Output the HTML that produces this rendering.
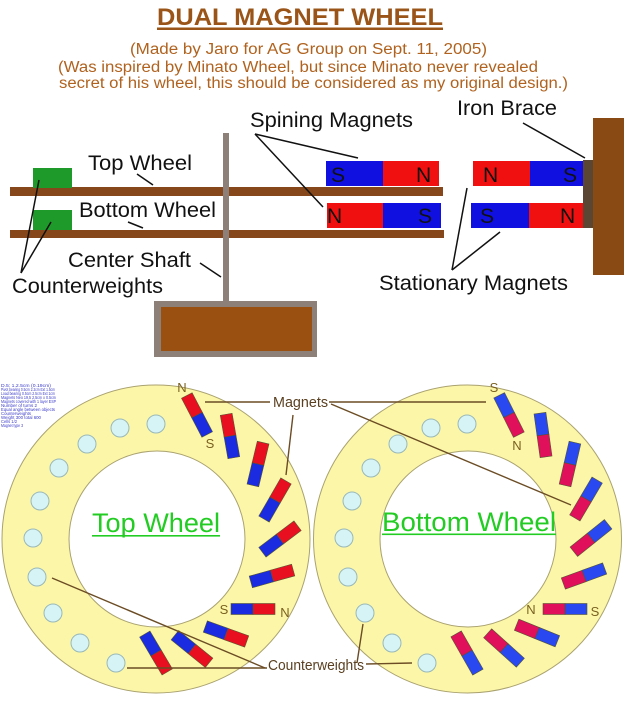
<!DOCTYPE html>
<html>
<head>
<meta charset="utf-8">
<style>
html,body{margin:0;padding:0;background:#fff;}
svg{display:block;}
text{font-family:"Liberation Sans",Arial,sans-serif;}
</style>
</head>
<body>
<svg width="624" height="701" viewBox="0 0 624 701" xmlns="http://www.w3.org/2000/svg">
<rect width="624" height="701" fill="#ffffff"/>

<!-- Header -->
<text x="157" y="25" font-size="24" font-weight="bold" fill="#9a5418" textLength="286" lengthAdjust="spacingAndGlyphs">DUAL MAGNET WHEEL</text>
<rect x="157" y="27.5" width="286" height="2.5" fill="#9a5418"/>
<text x="130" y="54" font-size="15.5" fill="#b0621e" textLength="357" lengthAdjust="spacingAndGlyphs">(Made by Jaro for AG Group on Sept. 11, 2005)</text>
<text x="58" y="72" font-size="15.5" fill="#b0621e" textLength="480" lengthAdjust="spacingAndGlyphs">(Was inspired by Minato Wheel, but since Minato never revealed</text>
<text x="59" y="88" font-size="15.5" fill="#b0621e" textLength="509" lengthAdjust="spacingAndGlyphs">secret of his wheel, this should be considered as my original design.)</text>

<!-- Top diagram -->
<!-- bars -->
<rect x="10" y="187" width="433" height="9" fill="#86471a"/>
<rect x="10" y="230" width="434" height="8" fill="#86471a"/>
<!-- counterweights -->
<rect x="33" y="168" width="39" height="20" fill="#1e9a2a"/>
<rect x="33" y="210" width="39" height="20" fill="#1e9a2a"/>
<!-- shaft -->
<rect x="223" y="133" width="6" height="170" fill="#8c8078"/>
<!-- base -->
<rect x="154" y="301" width="163" height="56" fill="#8c8078"/>
<rect x="161" y="307" width="151" height="44" fill="#9a5010"/>

<!-- spinning magnets -->
<rect x="326" y="161" width="57" height="25" fill="#1010e0"/>
<rect x="383" y="161" width="56" height="25" fill="#f01010"/>
<rect x="327" y="203" width="56" height="25" fill="#f01010"/>
<rect x="383" y="203" width="58" height="25" fill="#1010e0"/>
<!-- stationary magnets -->
<rect x="473" y="161" width="57" height="25" fill="#f01010"/>
<rect x="530" y="161" width="53" height="25" fill="#1010e0"/>
<rect x="471" y="203" width="58" height="25" fill="#1010e0"/>
<rect x="529" y="203" width="54" height="25" fill="#f01010"/>
<!-- iron brace + post -->
<rect x="583" y="160" width="10" height="68" fill="#5a4632"/>
<rect x="593" y="118" width="31" height="157" fill="#8a4a14"/>

<g font-size="21" fill="#111">
<text x="331" y="182">S</text>
<text x="416" y="182">N</text>
<text x="327" y="223">N</text>
<text x="418" y="223">S</text>
<text x="483" y="182">N</text>
<text x="563" y="182">S</text>
<text x="480" y="223">S</text>
<text x="560" y="223">N</text>
</g>

<g font-size="21" fill="#111">
<text x="250" y="127" textLength="163" lengthAdjust="spacingAndGlyphs">Spining Magnets</text>
<text x="457" y="115" textLength="100" lengthAdjust="spacingAndGlyphs">Iron Brace</text>
<text x="379" y="290" textLength="189" lengthAdjust="spacingAndGlyphs">Stationary Magnets</text>
<text x="88" y="170" textLength="104" lengthAdjust="spacingAndGlyphs">Top Wheel</text>
<text x="79" y="217" textLength="137" lengthAdjust="spacingAndGlyphs">Bottom Wheel</text>
<text x="68" y="267" textLength="123" lengthAdjust="spacingAndGlyphs">Center Shaft</text>
<text x="12" y="293" textLength="151" lengthAdjust="spacingAndGlyphs">Counterweights</text>
</g>

<g stroke="#111" stroke-width="1.5" fill="none">
<line x1="137" y1="174" x2="153" y2="185"/>
<line x1="128" y1="222" x2="143" y2="228"/>
<line x1="200" y1="263" x2="221" y2="277"/>
<line x1="21" y1="273" x2="39" y2="180"/>
<line x1="21" y1="273" x2="51" y2="222"/>
<line x1="255" y1="134" x2="358" y2="158"/>
<line x1="255" y1="134" x2="323" y2="207"/>
<line x1="523" y1="123" x2="585" y2="158"/>
<line x1="452" y1="270" x2="467" y2="188"/>
<line x1="452" y1="270" x2="500" y2="232"/>
</g>

<!-- Bottom: wheels -->
<circle cx="156" cy="539" r="154" fill="#fcf7a8" stroke="#aaa270" stroke-width="1"/>
<circle cx="157" cy="539" r="88" fill="#ffffff" stroke="#aaa270" stroke-width="1"/>
<circle cx="467.5" cy="539" r="154" fill="#fcf7a8" stroke="#aaa270" stroke-width="1"/>
<circle cx="468" cy="539" r="88" fill="#ffffff" stroke="#aaa270" stroke-width="1"/>

<!-- holes -->
<g fill="#d6f3f5" stroke="#9ab8b8" stroke-width="1">
<circle cx="156" cy="424" r="9"/>
<circle cx="120" cy="428" r="9"/>
<circle cx="87" cy="444" r="9"/>
<circle cx="59" cy="468" r="9"/>
<circle cx="40" cy="501" r="9"/>
<circle cx="33" cy="538" r="9"/>
<circle cx="37" cy="577" r="9"/>
<circle cx="53" cy="613" r="9"/>
<circle cx="80" cy="643" r="9"/>
<circle cx="116" cy="663" r="9"/>

<circle cx="467" cy="424" r="9"/>
<circle cx="431" cy="428" r="9"/>
<circle cx="398" cy="444" r="9"/>
<circle cx="371" cy="468" r="9"/>
<circle cx="352" cy="501" r="9"/>
<circle cx="344" cy="538" r="9"/>
<circle cx="348" cy="577" r="9"/>
<circle cx="365" cy="613" r="9"/>
<circle cx="392" cy="643" r="9"/>
<circle cx="427" cy="663" r="9"/>
</g>

<!-- left wheel magnets: left half blue, right half red -->
<g stroke="#553" stroke-width="0.6">
<g transform="translate(197,415) rotate(-117.6)"><rect x="-22" y="-6" width="22" height="12" fill="#1a2be0"/><rect x="0" y="-6" width="22" height="12" fill="#e81020"/></g>
<g transform="translate(230,436) rotate(-100)"><rect x="-22" y="-6" width="22" height="12" fill="#1a2be0"/><rect x="0" y="-6" width="22" height="12" fill="#e81020"/></g>
<g transform="translate(258,464) rotate(-76.5)"><rect x="-22" y="-6" width="22" height="12" fill="#1a2be0"/><rect x="0" y="-6" width="22" height="12" fill="#e81020"/></g>
<g transform="translate(275,500) rotate(-60)"><rect x="-22" y="-6" width="22" height="12" fill="#1a2be0"/><rect x="0" y="-6" width="22" height="12" fill="#e81020"/></g>
<g transform="translate(280,539) rotate(-37)"><rect x="-22" y="-6" width="22" height="12" fill="#1a2be0"/><rect x="0" y="-6" width="22" height="12" fill="#e81020"/></g>
<g transform="translate(272,576) rotate(-15.6)"><rect x="-22" y="-6" width="22" height="12" fill="#1a2be0"/><rect x="0" y="-6" width="22" height="12" fill="#e81020"/></g>
<g transform="translate(253,609) rotate(0)"><rect x="-22" y="-5.5" width="22" height="11" fill="#1a2be0"/><rect x="0" y="-5.5" width="22" height="11" fill="#e81020"/></g>
<g transform="translate(226,634) rotate(19.8)"><rect x="-22" y="-6" width="22" height="12" fill="#1a2be0"/><rect x="0" y="-6" width="22" height="12" fill="#e81020"/></g>
<g transform="translate(192,649) rotate(39)"><rect x="-22" y="-6" width="22" height="12" fill="#1a2be0"/><rect x="0" y="-6" width="22" height="12" fill="#e81020"/></g>
<g transform="translate(156,653) rotate(59.4)"><rect x="-22" y="-6" width="22" height="12" fill="#1a2be0"/><rect x="0" y="-6" width="22" height="12" fill="#e81020"/></g>
</g>

<!-- right wheel magnets: left half blue, right half pink -->
<g stroke="#553" stroke-width="0.6">
<g transform="translate(509,415) rotate(63.4)"><rect x="-22" y="-6" width="22" height="12" fill="#2a48f0"/><rect x="0" y="-6" width="22" height="12" fill="#e0105a"/></g>
<g transform="translate(543,435) rotate(82)"><rect x="-22" y="-6" width="22" height="12" fill="#2a48f0"/><rect x="0" y="-6" width="22" height="12" fill="#e0105a"/></g>
<g transform="translate(570,464) rotate(103)"><rect x="-22" y="-6" width="22" height="12" fill="#2a48f0"/><rect x="0" y="-6" width="22" height="12" fill="#e0105a"/></g>
<g transform="translate(586,499) rotate(120.5)"><rect x="-22" y="-6" width="22" height="12" fill="#2a48f0"/><rect x="0" y="-6" width="22" height="12" fill="#e0105a"/></g>
<g transform="translate(591,538) rotate(141.3)"><rect x="-22" y="-6" width="22" height="12" fill="#2a48f0"/><rect x="0" y="-6" width="22" height="12" fill="#e0105a"/></g>
<g transform="translate(584,576) rotate(160)"><rect x="-22" y="-6" width="22" height="12" fill="#2a48f0"/><rect x="0" y="-6" width="22" height="12" fill="#e0105a"/></g>
<g transform="translate(565,609) rotate(180)"><rect x="-22" y="-5.5" width="22" height="11" fill="#2a48f0"/><rect x="0" y="-5.5" width="22" height="11" fill="#e0105a"/></g>
<g transform="translate(537,633) rotate(-158)"><rect x="-22" y="-6" width="22" height="12" fill="#2a48f0"/><rect x="0" y="-6" width="22" height="12" fill="#e0105a"/></g>
<g transform="translate(504,648) rotate(-138)"><rect x="-22" y="-6" width="22" height="12" fill="#2a48f0"/><rect x="0" y="-6" width="22" height="12" fill="#e0105a"/></g>
<g transform="translate(467,653) rotate(-119.7)"><rect x="-22" y="-6" width="22" height="12" fill="#2a48f0"/><rect x="0" y="-6" width="22" height="12" fill="#e0105a"/></g>
</g>

<!-- pole letters -->
<g font-size="13" fill="#7a6020" text-anchor="middle">
<text x="182" y="392">N</text>
<text x="210" y="448">S</text>
<text x="224" y="614">S</text>
<text x="285" y="617">N</text>
<text x="494" y="392">S</text>
<text x="517" y="450">N</text>
<text x="531" y="614">N</text>
<text x="595" y="616">S</text>
</g>

<!-- wheel titles -->
<text x="92" y="532" font-size="27" fill="#22cc22" textLength="128" lengthAdjust="spacingAndGlyphs">Top Wheel</text>
<rect x="92" y="535" width="128" height="1.6" fill="#22cc22"/>
<text x="382" y="531" font-size="27" fill="#22cc22" textLength="174" lengthAdjust="spacingAndGlyphs">Bottom Wheel</text>
<rect x="382" y="533.5" width="174" height="1.6" fill="#22cc22"/>

<!-- leader lines bottom -->
<g stroke="#6b4c24" stroke-width="1.4" fill="none">
<line x1="205" y1="402" x2="270" y2="402"/>
<line x1="293" y1="415" x2="286" y2="475"/>
<line x1="329" y1="402" x2="486" y2="402"/>
<line x1="331" y1="404" x2="571" y2="505"/>
<line x1="127" y1="668" x2="267" y2="668"/>
<line x1="52" y1="578" x2="265" y2="668"/>
<line x1="366" y1="664" x2="412" y2="663"/>
<line x1="357" y1="663" x2="363" y2="624"/>
</g>
<g font-size="15" fill="#5a4020">
<text x="273" y="407" textLength="55" lengthAdjust="spacingAndGlyphs">Magnets</text>
<text x="268" y="670" textLength="96" lengthAdjust="spacingAndGlyphs">Counterweights</text>
</g>

<!-- tiny blue notes -->
<g font-size="4.2" fill="#3a3ac8">
<text x="1" y="387" textLength="50" lengthAdjust="spacingAndGlyphs">D.5: 1.2.5cm (0.19cm)</text>
<text x="1" y="391" textLength="54" lengthAdjust="spacingAndGlyphs">Pivot bearing 0.5cm 2.2cm Ext 1.5cm</text>
<text x="1" y="395" textLength="54" lengthAdjust="spacingAndGlyphs">Load bearing 0.5cm 2.5cm Ext 1cm</text>
<text x="1" y="399" textLength="55" lengthAdjust="spacingAndGlyphs">Magnets Neo 19.5 2.5cm x 0.5cm</text>
<text x="1" y="403" textLength="55" lengthAdjust="spacingAndGlyphs">Magnets covered with 1 layer ESP</text>
<text x="1" y="407" textLength="36" lengthAdjust="spacingAndGlyphs">Number of turns 2</text>
<text x="1" y="411" textLength="54" lengthAdjust="spacingAndGlyphs">Equal angle between objects</text>
<text x="1" y="415" textLength="30" lengthAdjust="spacingAndGlyphs">Counterweights</text>
<text x="1" y="419" textLength="40" lengthAdjust="spacingAndGlyphs">Weight 300 total 600</text>
<text x="1" y="423" textLength="16" lengthAdjust="spacingAndGlyphs">Cells 1/2</text>
<text x="1" y="427" textLength="22" lengthAdjust="spacingAndGlyphs">Magnet type 3</text>
</g>
</svg>
</body>
</html>
